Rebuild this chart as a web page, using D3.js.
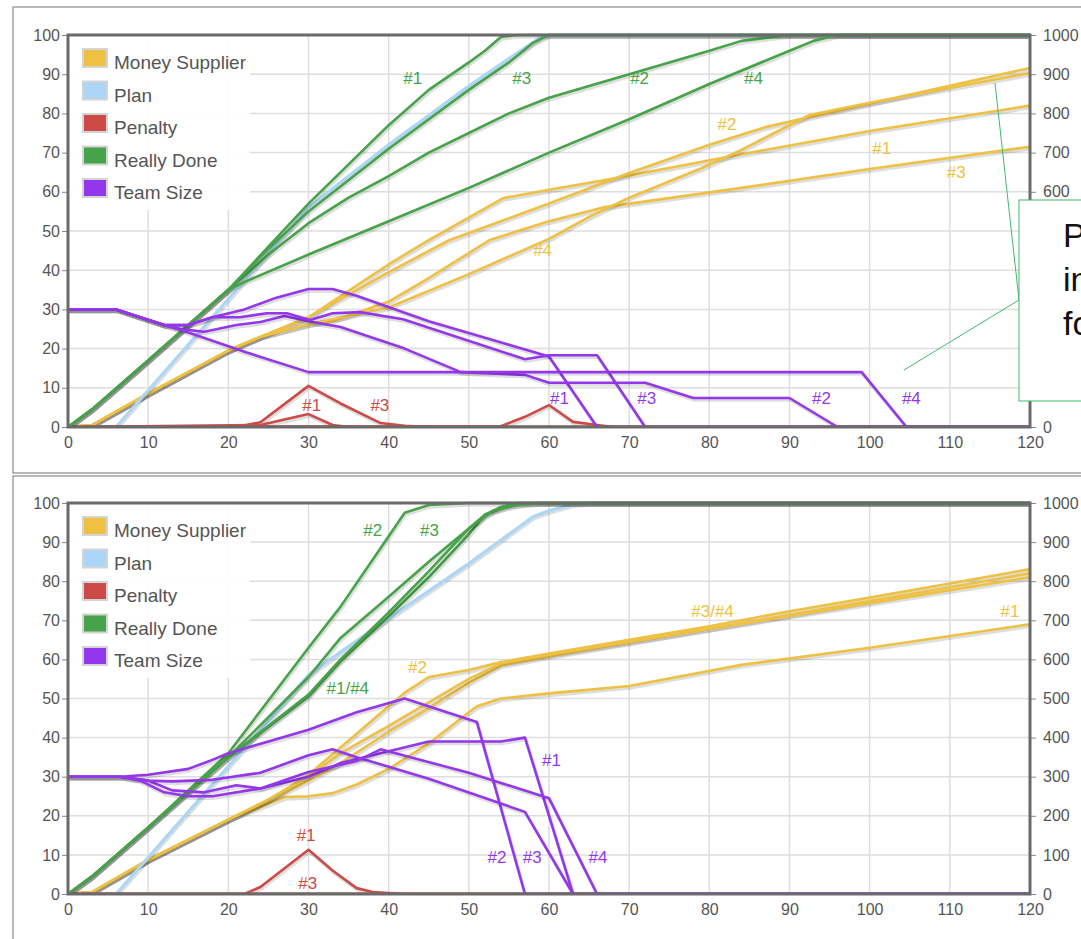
<!DOCTYPE html>
<html lang="en">
<head>
<meta charset="UTF-8" />
<title>Really Done / Money Supplier</title>
<script src="https://d3js.org/d3.v7.min.js"></script>
<style>
  body { margin: 0; background: #fff; font-family: "Liberation Sans", Arial, sans-serif; }
  svg { display: block; }
  .grid line { stroke: #dedede; stroke-width: 1.5; }
  .axis path { display: none; }
  .axis line { stroke: #888; }
  .axis text { fill: #555; font-size: 16px; font-family: "Liberation Sans", Arial, sans-serif; }
</style>
</head>
<body>
<svg id="chart" width="1081" height="939"></svg>
<script>
// colours of the five series
const colMoney = "#efc142", colPlan = "#acd6f5", colPenalty = "#cc4a47", colDone = "#46a349", colTeam = "#9437ec";
const legendNames = ["Money Supplier", "Plan", "Penalty", "Really Done", "Team Size"];
const legendColors = [colMoney, colPlan, colPenalty, colDone, colTeam];

const xTicks = [0, 10, 20, 30, 40, 50, 60, 70, 80, 90, 100, 110, 120];
const leftTicks = [0, 10, 20, 30, 40, 50, 60, 70, 80, 90, 100];
const rightTicks = [0, 100, 200, 300, 400, 500, 600, 700, 800, 900, 1000];
// in the top chart the note box hides the right labels 100..500
const topRightLabels = [0, 600, 700, 800, 900, 1000];

// ---- top chart ----
// money supplier, right axis
const topMoney1 = [[0,0],[3,5],[10,85],[20,195],[24,230],[27,255],[30,280],[40,415],[45,477],[54.3,584],[60,605],[67,630],[84,696],[100,755],[120,820]];
const topMoney2 = [[0,0],[3,5],[10,85],[20,195],[24,230],[30,280],[40,395],[47.6,477],[60,570],[70,648],[80,720],[87,765],[100,825],[120,916]];
const topMoney3 = [[0,0],[3,5],[10,85],[20,195],[24,230],[30,262],[33,270],[40,320],[45,380],[52.6,477],[60,525],[67,561],[84,610],[100,658],[120,715]];
const topMoney4 = [[0,0],[3,5],[10,85],[20,195],[24,230],[30,262],[40,305],[50,390],[60,480],[65,536],[70,585],[79,660],[84,707],[92.5,796],[100,827],[120,903]];
const topPlan = [[0,0],[6,0],[30,56],[40,72],[50,87],[55,94],[59,99.5],[60,100],[120,100]];
const topPenalty1 = [[0,0],[21,0],[24,1.2],[30,10.5],[34,6],[39,1],[42,0.3],[45,0],[120,0]];
const topPenalty2 = [[0,0],[54,0.2],[57,2.6],[60,5.6],[63,1.3],[66,0.5],[68,0],[120,0]];
const topPenalty3 = [[0,0],[24,0.5],[30,3.3],[33,0.5],[35,0],[120,0]];
const topPenalty4 = [[0,0],[120,0]];
const topDone1 = [[0,0],[3,4.5],[10,17],[20,35],[25,46],[30,57],[35,67],[40,77],[45,86],[50,93],[52,96],[54,99.5],[56,100],[120,100]];
const topDone2 = [[0,0],[3,4.5],[10,17],[20,35],[25,44],[30,52],[35,58.5],[40,64],[45,70],[50,75],[55,80],[60,84],[65,87],[70,90],[75,93],[80,96],[84,98.5],[90,100],[120,100]];
const topDone3 = [[0,0],[3,4.5],[10,17],[20,35],[25,45.5],[30,55],[40,71],[50,86],[55,93],[58,98],[60,100],[120,100]];
const topDone4 = [[0,0],[3,4.5],[10,17],[20,35],[22,37],[30,44],[40,52.5],[50,61],[60,70],[70,78.5],[80,87.5],[90,96],[93,98.5],[96,100],[120,100]];
const topTeam1 = [[0,30],[6,30],[12,26],[15,26],[18,28],[22,30],[26,33],[30,35.2],[33,35.2],[36,33.5],[45,27],[55,21],[60,18],[66,0],[120,0]];
const topTeam2 = [[0,30],[6,30],[12,26],[14,25],[17,24.3],[21,26],[24,26.8],[27,28.3],[30,27],[34,25.5],[42,20],[49,14],[57,13.3],[60,11.3],[72,11.3],[78,7.4],[90,7.4],[96,0],[120,0]];
const topTeam3 = [[0,30],[6,30],[12,26],[15,26],[18,28],[21.4,28],[24.8,29],[27.3,29],[30.2,27.3],[33,29],[36.4,29.3],[41.8,27.5],[57,17.3],[60,18.3],[66,18.3],[72,0],[120,0]];
const topTeam4 = [[0,30],[6,30],[12,26],[15.2,24],[22.3,19],[30,14],[99,14],[104.6,0],[120,0]];
const topLabels = [
  ["#1", colDone, 43.0, 89], ["#3", colDone, 56.6, 89], ["#2", colDone, 71.3, 89], ["#4", colDone, 85.5, 89],
  ["#2", colMoney, 82.2, 77.3], ["#1", colMoney, 101.5, 71.2], ["#3", colMoney, 110.8, 65.1], ["#4", colMoney, 59.2, 45.2],
  ["#1", colPenalty, 30.4, 5.6], ["#3", colPenalty, 38.9, 5.6],
  ["#1", colTeam, 61.3, 7.4], ["#3", colTeam, 72.2, 7.4], ["#2", colTeam, 94.0, 7.4], ["#4", colTeam, 105.2, 7.4]
];

// ---- bottom chart ----
const botMoney1 = [[0,0],[3,5],[10,87],[20,190],[27,248],[30,250],[33,258],[36,280],[40,320],[45,385],[50,465],[51,480],[54,500],[60,513],[70,532],[84,586],[100,630],[120,690]];
const botMoney2 = [[0,0],[3,5],[10,87],[20,190],[25,240],[30,305],[36,410],[40,480],[42,515],[45,555],[50,573],[54,593],[60,615],[70,650],[80,685],[90,723],[100,758],[110,794],[120,831]];
const botMoney3 = [[0,0],[3,5],[10,87],[20,190],[25,240],[30,290],[34,335],[40,415],[45,475],[50,540],[54,585],[60,608],[120,820]];
const botMoney4 = [[0,0],[3,5],[10,87],[20,190],[25,242],[30,300],[34,360],[40,430],[45,490],[50,550],[54,590],[60,612],[120,810]];
const botPlan = [[0,0],[6,0],[30,56],[32,59],[40,70.5],[50,84.5],[58,96.5],[60,98],[63,99.7],[65,100],[120,100]];
const botPenalty1 = [[0,0],[22,0],[24,1.8],[30,11.3],[33,6],[36,1.5],[38,0.5],[42,0],[120,0]];
const botPenalty2 = [[0,0],[120,0]];
const botPenalty3 = [[0,0],[120,0]];
const botPenalty4 = [[0,0],[120,0]];
const botDone1 = [[0,0],[3,4.5],[10,17],[20,35],[30,50.5],[34,59.5],[40,71],[45,81],[50,92],[52,97],[55,99.3],[58,100],[120,100]];
const botDone2 = [[0,0],[3,4.5],[10,17],[20,36],[30,63],[34,73.5],[40,91.5],[42,97.5],[45,99.5],[50,100],[120,100]];
const botDone3 = [[0,0],[3,4.5],[10,17],[20,35],[30,55.5],[34,65.5],[40,76],[45,85],[50,93.5],[52,97],[54,99],[56,100],[120,100]];
const botDone4 = [[0,0],[3,4.5],[10,17],[20,35],[30,51],[34,60],[40,72],[45,82.5],[50,93.5],[53,98],[56,99.5],[59,100],[120,100]];
const botTeam1 = [[0,30],[6.5,30],[10,29],[13,26.5],[17,26],[21,27.8],[24,27],[30,30],[34,33.5],[40,36.5],[45,39],[54,39],[57,40],[63,0],[120,0]];
const botTeam2 = [[0,30],[6.5,30],[10,30.5],[15,32],[18,34.3],[20,36],[25,39],[30,42],[36,46.5],[42,50],[51,44],[57,0],[120,0]];
const botTeam3 = [[0,30],[6.5,30],[10,29],[13,28.8],[18,29.2],[24,31],[30,35.5],[33,37],[36,35],[45,29.5],[57,21],[63,0],[120,0]];
const botTeam4 = [[0,30],[6.5,30],[9,29],[12,26],[15,25],[18,25],[24,27],[30,31.2],[36,34],[39,37],[50,31],[60,24.5],[66,0],[120,0]];
const botLabels = [
  ["#2", colDone, 38.0, 93.1], ["#3", colDone, 45.1, 93.1], ["#1/#4", colDone, 34.9, 52.7],
  ["#2", colMoney, 43.6, 58.1], ["#3/#4", colMoney, 80.4, 72.4], ["#1", colMoney, 117.5, 72.4],
  ["#1", colPenalty, 29.7, 15.1], ["#3", colPenalty, 29.9, 2.8],
  ["#1", colTeam, 60.3, 34.3], ["#2", colTeam, 53.5, 9.5], ["#3", colTeam, 57.9, 9.5], ["#4", colTeam, 66.1, 9.5]
];

const svg = d3.select("#chart");

function drawPanel(frame, plot, money, plan, penalty, done, team, labels, rightLabels) {
  // outer frame of the panel
  svg.append("rect")
    .attr("x", frame[0]).attr("y", frame[1])
    .attr("width", frame[2]).attr("height", frame[3])
    .attr("fill", "none").attr("stroke", "#8a8a8a").attr("stroke-width", 1.2);

  const x = d3.scaleLinear().domain([0, 120]).range([plot.left, plot.right]);
  const y = d3.scaleLinear().domain([0, 100]).range([plot.bottom, plot.top]);
  const y2 = d3.scaleLinear().domain([0, 1000]).range([plot.bottom, plot.top]);

  const g = svg.append("g");

  // grid
  g.append("g").attr("class", "grid")
    .selectAll("line").data(xTicks).join("line")
    .attr("x1", d => x(d)).attr("x2", d => x(d))
    .attr("y1", plot.top).attr("y2", plot.bottom);
  g.append("g").attr("class", "grid")
    .selectAll("line").data(leftTicks).join("line")
    .attr("x1", plot.left).attr("x2", plot.right)
    .attr("y1", d => y(d)).attr("y2", d => y(d));

  // legend background hides the grid
  g.append("rect")
    .attr("x", plot.left).attr("y", plot.top)
    .attr("width", 182).attr("height", 175)
    .attr("fill", "#fff").attr("opacity", 0.92);

  // axes
  g.append("g").attr("class", "axis")
    .attr("transform", `translate(${plot.left - 1},0)`)
    .call(d3.axisLeft(y).tickValues(leftTicks).tickSize(5).tickPadding(2));
  g.append("g").attr("class", "axis")
    .attr("transform", `translate(${plot.right + 1},0)`)
    .call(d3.axisRight(y2).tickValues(rightTicks).tickSize(5).tickPadding(7)
      .tickFormat(d => rightLabels.includes(d) ? d3.format("d")(d) : ""));
  g.append("g").attr("class", "axis")
    .attr("transform", `translate(0,${plot.bottom + 1})`)
    .call(d3.axisBottom(x).tickValues(xTicks).tickSize(0).tickPadding(9));

  const lineL = d3.line().x(d => x(d[0])).y(d => y(d[1]));
  const lineR = d3.line().x(d => x(d[0])).y(d => y2(d[1]));

  const series = [];
  money.forEach(s => series.push({ pts: s, color: colMoney, gen: lineR }));
  series.push({ pts: plan, color: colPlan, gen: lineL, w: 3.2 });
  penalty.forEach(s => series.push({ pts: s, color: colPenalty, gen: lineL }));
  done.forEach(s => series.push({ pts: s, color: colDone, gen: lineL }));
  team.forEach(s => series.push({ pts: s, color: colTeam, gen: lineL }));

  const clipId = "clip" + plot.top;
  svg.append("clipPath").attr("id", clipId)
    .append("rect").attr("x", plot.left).attr("y", plot.top - 3)
    .attr("width", plot.right - plot.left).attr("height", plot.bottom - plot.top + 3);

  const lines = g.append("g").attr("clip-path", `url(#${clipId})`);
  series.forEach(s => {
    // soft shadow under each line
    lines.append("path")
      .attr("d", s.gen(s.pts))
      .attr("fill", "none")
      .attr("stroke", "rgba(0,0,0,0.13)")
      .attr("stroke-width", 3.5)
      .attr("transform", "translate(1,2)");
    lines.append("path")
      .attr("d", s.gen(s.pts))
      .attr("fill", "none")
      .attr("stroke", s.color)
      .attr("stroke-width", s.w || 2.6)
      .attr("stroke-linejoin", "round");
  });

  // labels on lines
  g.selectAll("text.lab").data(labels).join("text")
    .attr("class", "lab")
    .attr("x", d => x(d[2])).attr("y", d => y(d[3]))
    .attr("text-anchor", "middle").attr("dy", "0.35em")
    .attr("fill", d => d[1])
    .style("font-size", "17px")
    .text(d => d[0]);

  // frame of plot area
  g.append("rect")
    .attr("x", plot.left).attr("y", plot.top)
    .attr("width", plot.right - plot.left).attr("height", plot.bottom - plot.top)
    .attr("fill", "none").attr("stroke", "#6a6a6a").attr("stroke-width", 3);

  // legend
  const leg = g.append("g");
  legendNames.forEach((name, i) => {
    const ty = plot.top + 14 + i * 32.5;
    leg.append("rect")
      .attr("x", plot.left + 15).attr("y", ty)
      .attr("width", 24).attr("height", 18)
      .attr("fill", legendColors[i])
      .attr("stroke", "#d4d4d4").attr("stroke-width", 2);
    leg.append("text")
      .attr("x", plot.left + 46).attr("y", ty + 20)
      .attr("fill", "#555")
      .style("font-size", "19px")
      .text(name);
  });
}

drawPanel([13, 7, 1090, 466], { left: 68, right: 1030, top: 35, bottom: 427 },
  [topMoney1, topMoney2, topMoney3, topMoney4], topPlan,
  [topPenalty1, topPenalty2, topPenalty3, topPenalty4],
  [topDone1, topDone2, topDone3, topDone4],
  [topTeam1, topTeam2, topTeam3, topTeam4], topLabels, topRightLabels);

drawPanel([13, 476, 1090, 480], { left: 68, right: 1030, top: 503, bottom: 894 },
  [botMoney1, botMoney2, botMoney3, botMoney4], botPlan,
  [botPenalty1, botPenalty2, botPenalty3, botPenalty4],
  [botDone1, botDone2, botDone3, botDone4],
  [botTeam1, botTeam2, botTeam3, botTeam4], botLabels, rightTicks);

// callout box in the top chart
const callout = svg.append("g");
callout.append("line").attr("x1", 995).attr("y1", 83).attr("x2", 1019).attr("y2", 300)
  .attr("stroke", "#3fb870").attr("stroke-width", 1);
callout.append("line").attr("x1", 904).attr("y1", 370).attr("x2", 1019).attr("y2", 300)
  .attr("stroke", "#3fb870").attr("stroke-width", 1);
callout.append("rect").attr("x", 1019).attr("y", 200).attr("width", 90).attr("height", 201)
  .attr("fill", "#fff").attr("stroke", "#3fb870").attr("stroke-width", 1);
["P", "in", "fo"].forEach((t, i) => {
  callout.append("text")
    .attr("x", 1063).attr("y", 247 + i * 44)
    .attr("fill", "#111")
    .style("font-size", "34px")
    .text(t);
});
</script>
</body>
</html>
